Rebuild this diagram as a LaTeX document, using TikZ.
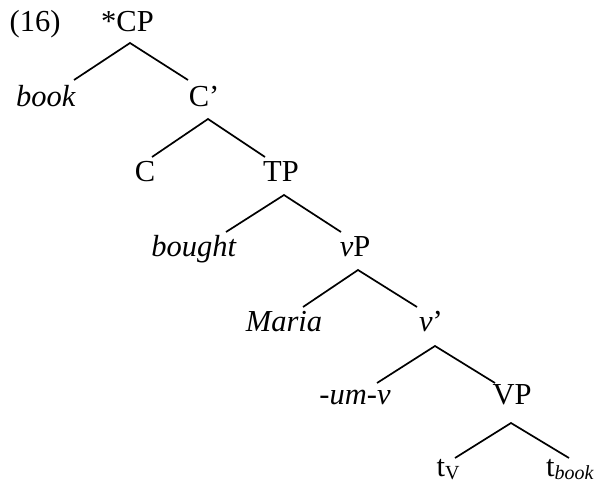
\documentclass[tikz,border=0pt]{standalone}
\usepackage{fontspec}
\setmainfont{Liberation Serif}
\usetikzlibrary{calc}
\newcommand{\subsc}[1]{\raisebox{-3pt}{\fontsize{20}{20}\selectfont #1}}
\begin{document}
\begin{tikzpicture}[x=1pt,y=-1pt,
  lbl/.style={inner sep=0pt, anchor=base, font=\fontsize{30.5}{36}\selectfont},
  branch/.style={line width=1.7pt, line cap=butt}]
\useasboundingbox (0,0) rectangle (599,487);
\node[lbl] (ex) at (35,32) {(16)};
\node[lbl] (cp) at (127.5,32) {*CP};
\node[lbl] (book) at (46,106) {\textit{book}};
\node[lbl] (cbar) at (204,106) {C’};
\node[lbl] (c) at (145,181) {C};
\node[lbl] (tp) at (281,181) {TP};
\node[lbl] (bought) at (194,256) {\textit{bought}};
\node[lbl] (vp) at (355,256) {\textit{v}P};
\node[lbl] (maria) at (284,331) {\textit{Maria}};
\node[lbl] (vbar) at (431,331) {\textit{v}’};
\node[lbl] (um) at (355,404) {\textit{-um-v}};
\node[lbl] (VP) at (512,404) {VP};
\node[lbl] (tv) at (448,476) {t\subsc{V}};
\node[lbl] (tb) at (570,476) {t\subsc{\textit{book}}};
% branches
\draw[branch] ($(book.base)+(28,-26)$) -- ($(cp.base)+(2.5,11)$) -- ($(cbar.base)+(-16,-26)$);
\draw[branch] ($(c.base)+(7,-24)$) -- ($(cbar.base)+(4,13)$) -- ($(tp.base)+(-16,-24)$);
\draw[branch] ($(bought.base)+(32,-24)$) -- ($(tp.base)+(3,14)$) -- ($(vp.base)+(-14,-24)$);
\draw[branch] ($(maria.base)+(19,-24)$) -- ($(vp.base)+(3,14)$) -- ($(vbar.base)+(-14,-24)$);
\draw[branch] ($(um.base)+(22,-21)$) -- ($(vbar.base)+(4,15)$) -- ($(VP.base)+(-17,-21)$);
\draw[branch] ($(tv.base)+(7,-18)$) -- ($(VP.base)+(-1,19)$) -- ($(tb.base)+(-1,-18)$);
\end{tikzpicture}
\end{document}
